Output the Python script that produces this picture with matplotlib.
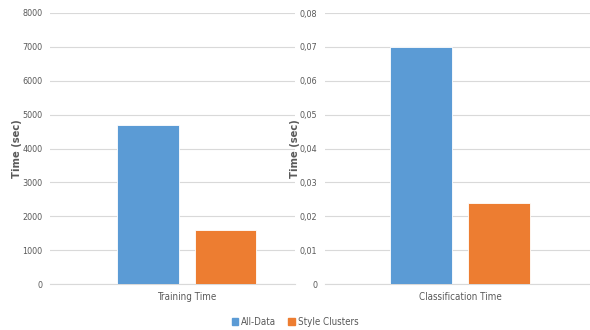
import numpy as np
import matplotlib.pyplot as plt
from matplotlib.patches import Patch

# Timing results for both approaches
series = ["All-Data", "Style Clusters"]
train_time = [4700, 1600]
class_time = [0.070, 0.024]
train_ticks = [0, 1000, 2000, 3000, 4000, 5000, 6000, 7000, 8000]
class_ticks = [0, 0.01, 0.02, 0.03, 0.04, 0.05, 0.06, 0.07, 0.08]
colors = ["#5B9BD5", "#ED7D31"]
grey = "#595959"

plt.rcParams['font.family'] = ['DejaVu Sans']
plt.rcParams['font.stretch'] = 'condensed'

fig = plt.figure(figsize=(5.9, 3.3), dpi=100)
ax1 = fig.add_axes([50 / 590, 46 / 330, 245 / 590, 271 / 330])
ax2 = fig.add_axes([325 / 590, 46 / 330, 265 / 590, 271 / 330])

def draw_panel(ax, values, ticks, fmt, xlim, offsets, width, name):
    for v, c, off in zip(values, colors, offsets):
        ax.bar(off, v, width=width, color=c, edgecolor="white", linewidth=0.6, zorder=3)
    ax.set_xlim(*xlim)
    ax.set_ylim(ticks[0], ticks[-1])
    ax.set_yticks(ticks)
    ax.set_yticklabels([fmt(t) for t in ticks], fontsize=6.5, color=grey)
    ax.set_xticks([0])
    ax.set_xticklabels([name], fontsize=7, color=grey)
    ax.tick_params(axis="y", length=0, pad=5.5)
    ax.tick_params(axis="x", length=0, pad=6)
    ax.grid(axis="y", color="#D9D9D9", linewidth=0.8, zorder=0)
    for s in ["top", "right", "left"]:
        ax.spines[s].set_visible(False)
    ax.spines["bottom"].set_color("#D9D9D9")
    ax.set_ylabel("Time (sec)", fontstretch="normal", fontsize=7.2,
                  fontweight="bold", color=grey)

draw_panel(ax1, train_time, train_ticks, lambda t: "%d" % t,
           (-0.559, 0.441), [-0.159, 0.157], 0.252, "Training Time")
draw_panel(ax2, class_time, class_ticks,
           lambda t: "0" if t == 0 else ("%.2f" % t).replace(".", ","),
           (-0.509, 0.491), [-0.147, 0.147], 0.234, "Classification Time")
ax1.yaxis.set_label_coords(-28 / 245, 0.5)
ax2.yaxis.set_label_coords(-25 / 265, 0.5)

handles = [Patch(color=c) for c in colors]
fig.legend(handles, series, loc="center", bbox_to_anchor=(0.5, 8 / 330), ncol=2,
           frameon=False, fontsize=7, labelcolor=grey, handlelength=0.7,
           handleheight=0.7, handletextpad=0.3, columnspacing=1.2)

fig.savefig("out.png", dpi=100)
